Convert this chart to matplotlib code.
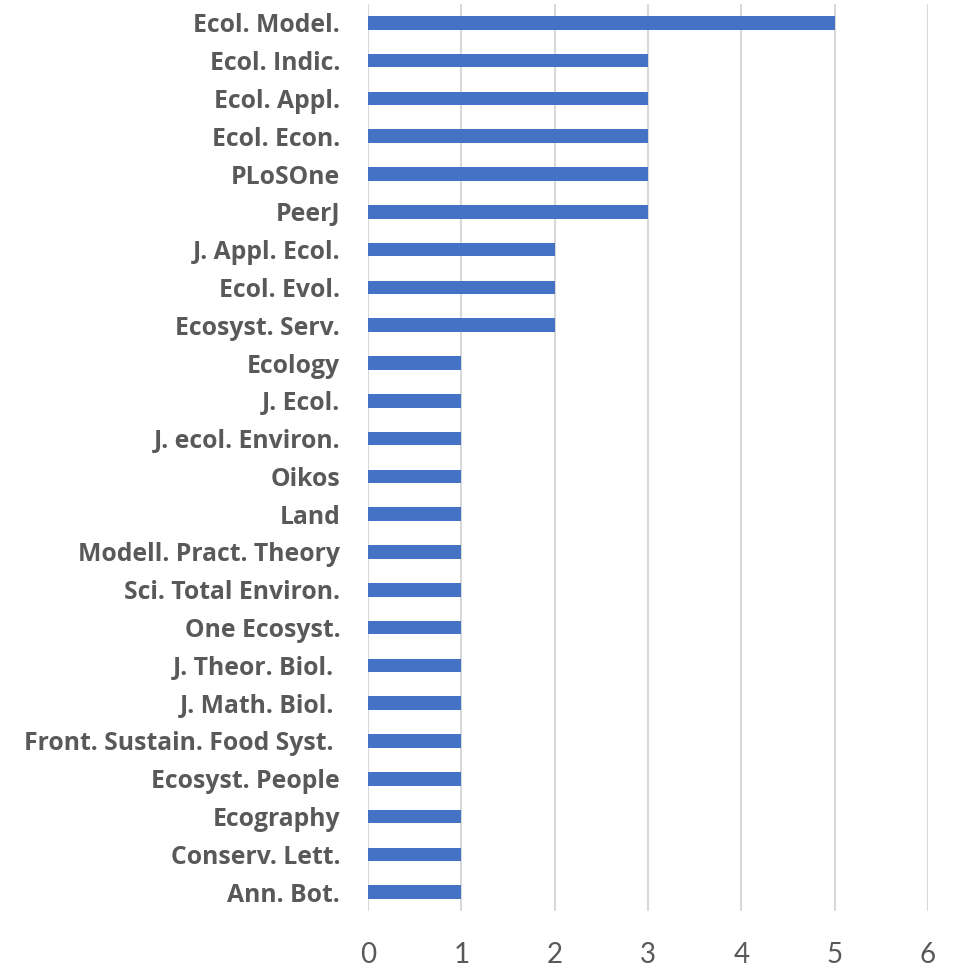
import matplotlib
matplotlib.use("Agg")
import matplotlib.pyplot as plt

# journaux, de haut en bas
journaux = [
    "Ecol. Model.", "Ecol. Indic.", "Ecol. Appl.", "Ecol. Econ.", "PLoSOne",
    "PeerJ", "J. Appl. Ecol.", "Ecol. Evol.", "Ecosyst. Serv.", "Ecology",
    "J. Ecol.", "J. ecol. Environ.", "Oikos", "Land", "Modell. Pract. Theory",
    "Sci. Total Environ.", "One Ecosyst.", "J. Theor. Biol. ", "J. Math. Biol. ",
    "Front. Sustain. Food Syst. ", "Ecosyst. People", "Ecography",
    "Conserv. Lett.", "Ann. Bot.",
]
nb_articles = [5, 3, 3, 3, 3, 3, 2, 2, 2, 1, 1, 1, 1, 1, 1, 1, 1, 1, 1, 1, 1, 1, 1, 1]
graduations = [0, 1, 2, 3, 4, 5, 6]

plt.rcParams["font.family"] = ["Lato", "DejaVu Sans"]

fig = plt.figure(figsize=(9.57, 9.66), dpi=100)
ax = fig.add_axes([0.3845, 0.0569, 0.5852, 0.939])

pos = list(range(len(journaux)))
ax.barh(pos, nb_articles, height=0.36, color="#4472C4", zorder=3)

ax.set_ylim(len(journaux) - 0.5, -0.5)
ax.set_xlim(0, 6)
ax.set_xticks(graduations)
ax.set_yticks(pos)
ax.set_yticklabels(journaux, fontsize=17.8, fontweight="bold", color="#595959",
                   family=["Open Sans", "DejaVu Sans"])
ax.tick_params(axis="x", labelsize=20, labelcolor="#595959", length=0, pad=22)
ax.tick_params(axis="y", length=0, pad=20)

ax.grid(axis="x", color="#d9d9d9", linewidth=1.5, zorder=0)
for s in ax.spines.values():
    s.set_visible(False)

fig.savefig("out.png", dpi=100)
plt.close()
